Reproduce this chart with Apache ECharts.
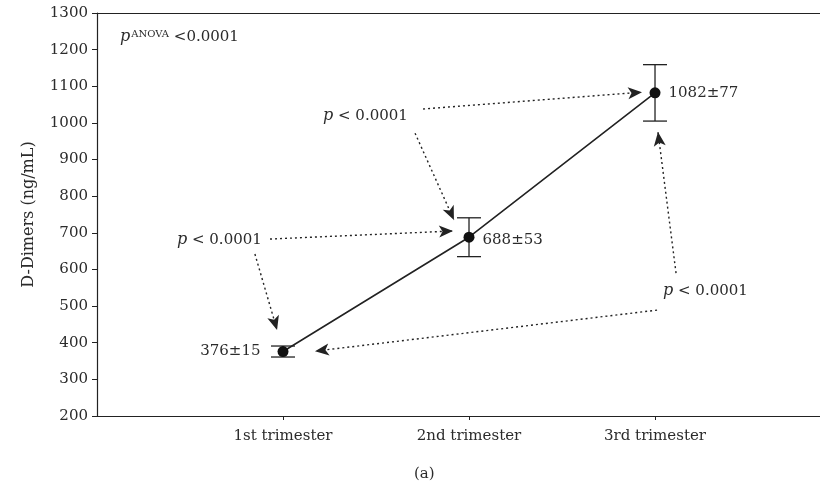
<!DOCTYPE html>
<html>
<head>
<meta charset="utf-8">
<script src="https://cdn.jsdelivr.net/npm/echarts@6/dist/echarts.min.js"></script>
<style>html,body{margin:0;padding:0;background:#fff}#c{width:820px;height:488px}</style>
</head>
<body>
<div id="c"></div>
<script>
// ---- data ----
const categories = ['1st trimester', '2nd trimester', '3rd trimester'];
const categoryPos = [1, 2, 3];
const means = [376, 688, 1082];
const sds = [15, 53, 77];
const yMin = 200, yMax = 1300, yInterval = 100;
const yAxisTitle = 'D-Dimers (ng/mL)';
const caption = '(a)';
// annotation texts (data coordinates: x in category units, y in ng/mL)
const pTexts = ['p < 0.0001', 'p < 0.0001', 'p < 0.0001'];
const pTextX = [0.43, 1.215, 3.043];
const pTextY = [680, 1019, 541];
const anovaText = '<0.0001';
const anovaPos = [0.124, 1234];
// comparison arrows: from -> to (data coordinates)
const arrowFrom = [[0.930, 683], [0.849, 642], [1.753, 1038], [1.710, 972], [3.113, 590], [3.011, 489]];
const arrowTo   = [[1.914, 705], [0.968, 435], [2.930, 1084], [1.919, 735], [3.016, 975], [1.172, 377]];

const serif = '"DejaVu Serif", "Liberation Serif", serif';
const ink = '#222';
const txt = '#2b2b2b';

const chart = echarts.init(document.getElementById('c'), null, {renderer: 'canvas'});

const lineData = means.map((m, i) => ({
  value: [categoryPos[i], m],
  label: i === 0 ? {position: 'left', distance: 17} : {position: 'right', distance: 8, offset: [0, i === 1 ? 3 : 0]}
}));

const errData = means.map((m, i) => [categoryPos[i], m - sds[i], m + sds[i]]);

const annotData = pTexts.map((t, i) => ({value: [pTextX[i], pTextY[i]], name: t}));

const markData = arrowFrom.map((f, i) => [{coord: f}, {coord: arrowTo[i]}]);

chart.setOption({
  animation: false,
  backgroundColor: '#fff',
  title: {
    text: caption, left: 414, top: 467, padding: 0,
    textStyle: {fontFamily: serif, fontSize: 15, fontWeight: 'normal', color: txt}
  },
  grid: {left: 97, top: 13, right: 0, height: 403, show: false, containLabel: false},
  xAxis: [{
    type: 'value', min: 0, max: 3.887, interval: 1,
    axisLine: {lineStyle: {color: ink, width: 1.2}},
    axisTick: {length: 4, lineStyle: {color: ink}, customValues: categoryPos},
    splitLine: {show: false},
    axisLabel: {
      margin: 13, color: txt, fontFamily: serif, fontSize: 15,
      customValues: categoryPos,
      formatter: v => categories[categoryPos.indexOf(v)] || ''
    }
  }, {
    type: 'value', position: 'top', min: 0, max: 3.887,
    axisLine: {show: true, lineStyle: {color: ink, width: 1.2}},
    axisTick: {show: false}, axisLabel: {show: false}, splitLine: {show: false}
  }],
  yAxis: {
    type: 'value', min: yMin, max: yMax, interval: yInterval,
    name: yAxisTitle, nameLocation: 'middle', nameGap: 60,
    nameTextStyle: {fontFamily: serif, fontSize: 16, color: txt},
    axisLine: {show: true, lineStyle: {color: ink, width: 1.2}},
    axisTick: {show: true, length: 5, lineStyle: {color: ink}},
    splitLine: {show: false},
    axisLabel: {margin: 9, color: txt, fontFamily: serif, fontSize: 15, formatter: v => String(v)}
  },
  series: [
    {
      type: 'custom',
      renderItem: function (params, api) {
        const x = api.value(0);
        const lo = api.coord([x, api.value(1)]);
        const hi = api.coord([x, api.value(2)]);
        const w = 12;
        const st = {stroke: ink, lineWidth: 1.3};
        return {
          type: 'group',
          children: [
            {type: 'line', shape: {x1: lo[0], y1: lo[1], x2: hi[0], y2: hi[1]}, style: st},
            {type: 'line', shape: {x1: lo[0] - w, y1: lo[1], x2: lo[0] + w, y2: lo[1]}, style: st},
            {type: 'line', shape: {x1: hi[0] - w, y1: hi[1], x2: hi[0] + w, y2: hi[1]}, style: st}
          ]
        };
      },
      data: errData,
      z: 2
    },
    {
      type: 'line',
      data: lineData,
      symbol: 'circle', symbolSize: 11,
      lineStyle: {color: ink, width: 1.6},
      itemStyle: {color: '#111'},
      label: {
        show: true, color: txt, fontFamily: serif, fontSize: 15,
        formatter: p => means[p.dataIndex] + '±' + sds[p.dataIndex]
      },
      z: 3,
      markLine: {
        silent: true,
        symbol: ['none', 'arrow'],
        symbolSize: [9, 14],
        label: {show: false},
        lineStyle: {type: [2, 3], color: ink, width: 1.4},
        data: markData
      }
    },
    {
      type: 'scatter',
      data: annotData,
      symbolSize: 0,
      silent: true,
      itemStyle: {opacity: 1},
      label: {
        show: true, position: 'right', distance: 0,
        color: txt, fontFamily: serif, fontSize: 15,
        formatter: p => '{i|p}' + p.name.slice(1),
        rich: {i: {fontStyle: 'italic', fontFamily: serif, fontSize: 16, color: txt}}
      }
    },
    {
      type: 'scatter',
      data: [{value: anovaPos, name: anovaText}],
      symbolSize: 0,
      silent: true,
      itemStyle: {opacity: 1},
      label: {
        show: true, position: 'right', distance: 0,
        color: txt, fontFamily: serif, fontSize: 15,
        formatter: p => '{i|p}{s|ANOVA} ' + p.name,
        rich: {
          i: {fontStyle: 'italic', fontFamily: serif, fontSize: 16, color: txt},
          s: {fontFamily: serif, fontSize: 10, color: txt, verticalAlign: 'top', padding: [0, 0, 6, 1]}
        }
      }
    }
  ]
});
</script>
</body>
</html>
